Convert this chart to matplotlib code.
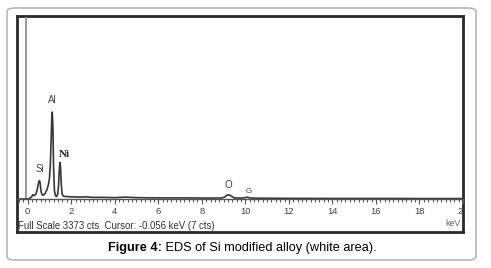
import numpy as np
import matplotlib
matplotlib.use('Agg')
import matplotlib.pyplot as plt
from matplotlib.patches import FancyBboxPatch
from matplotlib.ticker import MultipleLocator

# spectrum (keV, counts)
energy = [-0.45, 0.0, 0.10, 0.18, 0.24, 0.30, 0.38, 0.44, 0.50, 0.54, 0.57, 0.61, 0.66,
          0.72, 0.80, 0.88, 0.95, 1.00, 1.04, 1.08, 1.11, 1.13, 1.16, 1.19, 1.23, 1.28,
          1.33, 1.38, 1.42, 1.45, 1.48, 1.51, 1.54, 1.58, 1.65, 1.80, 2.0, 2.4, 2.7,
          3.0, 3.5, 4.0, 4.5, 5.0, 6.0, 7.0, 8.0, 8.9, 9.05, 9.15, 9.25, 9.35, 9.5,
          9.9, 10.1, 10.2, 10.4, 12.0, 14.0, 16.0, 18.0, 20.0]
counts = [0, 0, 15, 40, 80, 60, 90, 180, 300, 340, 310, 150, 80,
          70, 100, 170, 260, 380, 620, 1100, 1560, 1610, 1350, 600, 150, 60,
          45, 90, 260, 520, 680, 600, 300, 90, 50, 45, 40, 35, 40,
          30, 30, 25, 35, 25, 20, 20, 18, 18, 35, 70, 78, 55, 20,
          18, 35, 20, 15, 12, 10, 10, 8, 8]

peak_names = ['Si', 'Al', 'Ni', 'O', 'G']
peak_x = [0.55, 1.13, 1.68, 9.2, 10.15]
peak_y = [560, 1830, 820, 260, 130]

cursor_kev = -0.056
full_scale = 3373

plt.rcParams['font.family'] = ['Liberation Sans', 'DejaVu Sans']

fig = plt.figure(figsize=(4.91, 2.68), dpi=100)
W, H = 491.0, 268.0

# outer rounded box
box = FancyBboxPatch((7 / W, 8 / H), 469 / W, 252 / H,
                     boxstyle='round,pad=0,rounding_size=0.015',
                     transform=fig.transFigure, facecolor='none',
                     edgecolor='#a8a8a8', linewidth=1.0, zorder=-1)
fig.patches.append(box)

# dark frame of the spectrum window
frame = fig.add_axes([17 / W, 36 / H, 446 / W, 216 / H])
frame.set_xticks([])
frame.set_yticks([])
for s in frame.spines.values():
    s.set_linewidth(2.0)
    s.set_color('#2a2a2a')
frame.set_facecolor('white')

# spectrum axes
ax = fig.add_axes([17 / W, 69 / H, 446 / W, 182 / H])
ax.patch.set_alpha(0)
ax.plot(energy, counts, color='#383838', lw=1.2)
ax.axvline(cursor_kev, color='#999999', lw=1.4, zorder=0)
ax.set_xlim(-0.49, 20.0)
ax.set_ylim(0, full_scale)
for k in ['top', 'left', 'right']:
    ax.spines[k].set_visible(False)
ax.spines['bottom'].set_color('#555555')
ax.spines['bottom'].set_linewidth(1.0)
ax.set_yticks([])
ax.xaxis.set_major_locator(MultipleLocator(2))
ax.xaxis.set_minor_locator(MultipleLocator(0.2))
ax.tick_params(axis='x', which='major', direction='out', length=3.5, width=0.8,
               color='#555555', labelsize=6.8, labelcolor='#444444', pad=2.5)
ax.tick_params(axis='x', which='minor', direction='out', length=2.0, width=0.7,
               color='#555555')
ax.set_xticks(np.arange(0, 21, 2))
ax.set_xticklabels([str(v) for v in range(0, 21, 2)])
for lab in ax.get_xticklabels():
    lab.set_clip_box(frame.bbox)
    lab.set_clip_on(True)

for name, px, py in zip(peak_names, peak_x, peak_y):
    if name == 'Ni':
        ax.text(px, py, name, ha='center', va='center', fontsize=8,
                fontweight='bold', family='Liberation Serif', color='#222222')
    else:
        ax.text(px, py, name, ha='center', va='center',
                fontsize=7 if name != 'G' else 5.8, color='#444444')

fig.text(18 / W, 1 - 226 / H, 'Full Scale 3373 cts  Cursor: -0.056 keV (7 cts)',
         ha='left', va='center', fontsize=6.9, color='#333333')
fig.text(461 / W, 1 - 223 / H, 'keV', ha='right', va='center', fontsize=6.3,
         color='#666666')

# caption: bold part + normal part, centred together
cap_y = 1 - 248 / H
t1 = fig.text(0, cap_y, 'Figure 4:', ha='left', va='center', fontsize=9.2,
              fontweight='bold', color='black')
t2 = fig.text(0, cap_y, ' EDS of Si modified alloy (white area).', ha='left',
              va='center', fontsize=9.2, color='black')
r = fig.canvas.get_renderer()
w1 = t1.get_window_extent(r).width
w2 = t2.get_window_extent(r).width
x0 = 242 - (w1 + w2) / 2
t1.set_x(x0 / W)
t2.set_x((x0 + w1) / W)

fig.savefig('out.png', dpi=100)
